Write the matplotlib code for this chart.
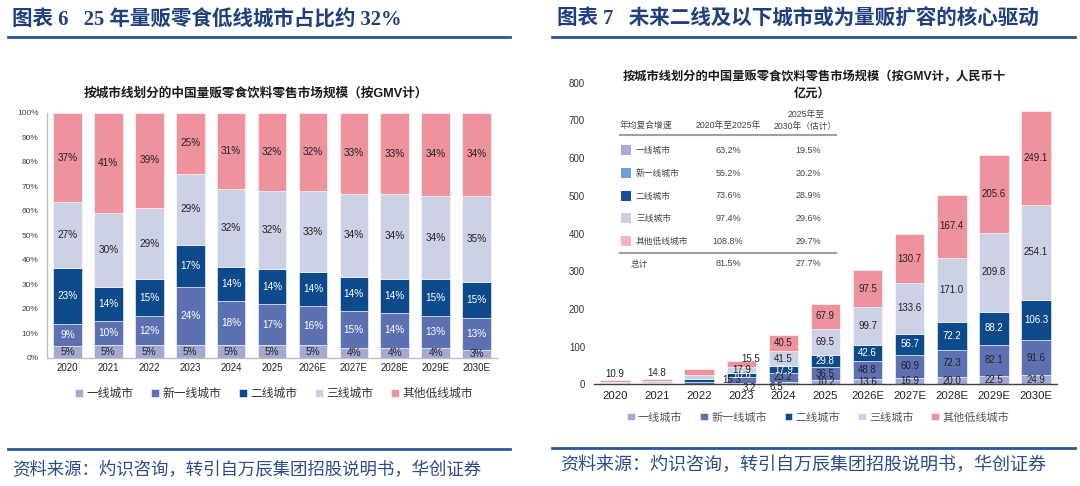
import matplotlib
matplotlib.use('Agg')
import matplotlib.pyplot as plt
from matplotlib.patches import Rectangle
from matplotlib.lines import Line2D
import numpy as np

plt.rcParams['font.family'] = ['Liberation Sans', 'Noto Sans CJK SC', 'DejaVu Sans']

W, H = 1080, 486

# ---------------- data ----------------
years = ['2020', '2021', '2022', '2023', '2024', '2025',
         '2026E', '2027E', '2028E', '2029E', '2030E']
tiers = ['一线城市', '新一线城市', '二线城市', '三线城市', '其他低线城市']

# share of GMV by city tier (%), left chart
share_t1 = [5, 5, 5, 5, 5, 5, 5, 4, 4, 4, 3]
share_new1 = [9, 10, 12, 24, 18, 17, 16, 15, 14, 13, 13]
share_t2 = [23, 14, 15, 17, 14, 14, 14, 14, 14, 15, 15]
share_t3 = [27, 30, 29, 29, 32, 32, 33, 34, 34, 34, 35]
share_low = [37, 41, 39, 25, 31, 32, 32, 33, 33, 34, 34]

# GMV by city tier (RMB bn), right chart (2020-2022 segments estimated)
gmv_t1 = [0.5, 0.7, 2.0, 3.2, 6.5, 10.2, 13.6, 16.9, 20.0, 22.5, 24.9]
gmv_new1 = [1.0, 1.5, 4.8, 15.3, 23.2, 36.5, 48.8, 60.9, 72.3, 82.1, 91.6]
gmv_t2 = [2.5, 2.1, 6.0, 10.6, 17.9, 29.8, 42.6, 56.7, 72.2, 88.2, 106.3]
gmv_t3 = [2.9, 4.4, 11.6, 17.9, 41.5, 69.5, 99.7, 133.6, 171.0, 209.8, 254.1]
gmv_low = [4.0, 6.1, 15.6, 15.5, 40.5, 67.9, 97.5, 130.7, 167.4, 205.6, 249.1]
total_labels = {'2020': 10.9, '2021': 14.8}
segment_label_years = ['2023', '2024', '2025', '2026E', '2027E', '2028E', '2029E', '2030E']

# CAGR table
cagr_2020_2025 = [63.2, 55.2, 73.6, 97.4, 108.8]
cagr_2025_2030 = [19.5, 20.2, 28.9, 29.6, 29.7]
cagr_total = [81.5, 27.7]

# ---------------- style ----------------
colors = ['#A3A9D2', '#5C70B2', '#0D4A8B', '#CCD1E6', '#EE929E']
table_sq_colors = ['#A7ACD6', '#6E9FD4', '#1F4C98', '#CACEE6', '#F4B4C3']
lbl_left = ['#222222', 'white', 'white', '#222222', '#222222']
lbl_right = ['#222222', '#222222', 'white', '#222222', '#222222']
HDR = '#1F3F7F'
LINE = '#2F5597'


def fx(x):
    return x / W


def fy(y):
    return 1 - y / H


fig = plt.figure(figsize=(10.8, 4.86), dpi=100)

# ---------------- headers / footers ----------------
hdr_font = ['Liberation Serif', 'Noto Sans CJK SC']
fig.text(fx(12), fy(20), '图表 6   25 年量贩零食低线城市占比约 32%', family=hdr_font,
         fontsize=14.8, fontweight='bold', color=HDR, ha='left', va='center')
fig.text(fx(557), fy(20), '图表 7   未来二线及以下城市或为量贩扩容的核心驱动', family=hdr_font,
         fontsize=14.8, fontweight='bold', color=HDR, ha='left', va='center')
for (a, b, y) in [(8, 510, 37), (552, 1075, 37), (8, 510, 449), (552, 1075, 448)]:
    fig.add_artist(Line2D([fx(a), fx(b)], [fy(y), fy(y)], color=LINE, lw=2))
src = '资料来源：灼识咨询，转引自万辰集团招股说明书，华创证券'
fig.text(fx(12), fy(470), src, family=['Noto Sans CJK SC'], fontsize=12.55,
         color='#2B4C8C', ha='left', va='center')
fig.text(fx(560), fy(465), src, family=['Noto Sans CJK SC'], fontsize=13,
         color='#2B4C8C', ha='left', va='center')

# ---------------- left chart ----------------
ax1 = fig.add_axes([fx(47), fy(357.7), (497 - 47) / W, (357.7 - 112.7) / H])
shares = np.array([share_t1, share_new1, share_t2, share_t3, share_low], dtype=float)
norm = shares / shares.sum(axis=0) * 100
x = np.arange(len(years))
bottom = np.zeros(len(years))
handles = []
for i in range(5):
    b = ax1.bar(x, norm[i], 0.7, bottom=bottom, color=colors[i], edgecolor='white',
                linewidth=0.4, label=tiers[i])
    handles.append(b)
    for j in range(len(years)):
        ax1.text(x[j], bottom[j] + norm[i][j] / 2, f'{int(shares[i][j])}%', ha='center',
                 va='center', fontsize=7.2, color=lbl_left[i])
    bottom += norm[i]
ax1.set_xlim(-0.5, 10.5)
ax1.set_ylim(0, 100)
ax1.set_yticks(np.arange(0, 101, 10))
ax1.set_yticklabels([f'{v}%' for v in range(0, 101, 10)], fontsize=6, color='#404040')
ax1.set_xticks(x)
ax1.set_xticklabels(years, fontsize=7, color='#222222')
ax1.tick_params(axis='both', length=0)
ax1.tick_params(axis='y', pad=6)
ax1.tick_params(axis='x', pad=4)
for s in ['top', 'right']:
    ax1.spines[s].set_visible(False)
for s in ['left', 'bottom']:
    ax1.spines[s].set_color('#BFBFBF')
    ax1.spines[s].set_linewidth(1)
fig.text(fx(256), fy(93), '按城市线划分的中国量贩零食饮料零售市场规模（按GMV计）', fontsize=9.1,
         fontweight='bold', color='#1a1a1a', ha='center', va='center')
fig.legend(handles, tiers, loc='center', bbox_to_anchor=(fx(274), fy(394)), ncol=5,
           frameon=False, fontsize=8.5, handlelength=0.7, handleheight=0.7,
           handletextpad=0.3, columnspacing=1.45, labelcolor='#333333')

# ---------------- right chart ----------------
ax2 = fig.add_axes([fx(594), fy(384.3), (1057 - 594) / W, (384.3 - 82.7) / H])
gmv = np.array([gmv_t1, gmv_new1, gmv_t2, gmv_t3, gmv_low])
bottom = np.zeros(len(years))
rhandles = []
offsets = {('2023', 4): (9, 5), ('2023', 1): (-10, 0), ('2023', 0): (8, -4),
           ('2024', 0): (-7, -4)}
for i in range(5):
    b = ax2.bar(x, gmv[i], 0.7, bottom=bottom, color=colors[i], edgecolor='white',
                linewidth=0.4, label=tiers[i])
    rhandles.append(b)
    for j, yr in enumerate(years):
        if yr in segment_label_years:
            dx, dy = offsets.get((yr, i), (0, 0))
            ax2.annotate(f'{gmv[i][j]:.1f}', (x[j], bottom[j] + gmv[i][j] / 2),
                         xytext=(dx, dy), textcoords='offset pixels', ha='center',
                         va='center', fontsize=7, color=lbl_right[i])
    bottom += gmv[i]
for j, yr in enumerate(years):
    if yr in total_labels:
        ax2.annotate(f'{total_labels[yr]:.1f}', (x[j], bottom[j]), xytext=(0, 1),
                     textcoords='offset pixels', ha='center', va='bottom', fontsize=7,
                     color='#222222')
ax2.set_xlim(-0.5, 10.5)
ax2.set_ylim(0, 800)
ax2.set_yticks(np.arange(0, 801, 100))
ax2.set_yticklabels([str(v) for v in range(0, 801, 100)], fontsize=7, color='#333333')
ax2.set_xticks(x)
ax2.set_xticklabels(years, fontsize=8.2, color='#222222')
ax2.tick_params(axis='both', length=0)
ax2.tick_params(axis='y', pad=6.5)
ax2.tick_params(axis='x', pad=5)
for s in ['top', 'right', 'left']:
    ax2.spines[s].set_visible(False)
ax2.spines['bottom'].set_color('#404040')
ax2.spines['bottom'].set_linewidth(1)
fig.text(fx(814.5), fy(77), '按城市线划分的中国量贩零食饮料零售市场规模（按GMV计，人民币十',
         fontsize=8.8, fontweight='bold', color='#1a1a1a', ha='center', va='center')
fig.text(fx(812), fy(94), '亿元）', fontsize=8.8, fontweight='bold', color='#1a1a1a',
         ha='center', va='center')
fig.legend(rhandles, tiers, loc='center', bbox_to_anchor=(fx(818), fy(417)), ncol=5,
           frameon=False, fontsize=8, handlelength=0.7, handleheight=0.7,
           handletextpad=0.3, columnspacing=1.6, labelcolor='#555555')

# ---------------- CAGR table ----------------
tc = '#444444'
tfs = 6.3
fig.text(fx(620), fy(125.7), '年均复合增速', fontsize=tfs, color=tc, ha='left', va='center')
fig.text(fx(728), fy(125.7), '2020年至2025年', fontsize=tfs, color=tc, ha='center', va='center')
fig.text(fx(806), fy(114), '2025年至', fontsize=tfs, color=tc, ha='center', va='center')
fig.text(fx(805), fy(126), '2030年（估计）', fontsize=tfs, color=tc, ha='center', va='center')
for y in [135, 253]:
    fig.add_artist(Line2D([fx(620), fx(836)], [fy(y), fy(y)], color='#A0A0A0', lw=1.5))
row_y = [150, 173, 196, 218, 241]
for i in range(5):
    fig.add_artist(Rectangle((fx(621), fy(row_y[i] + 5)), 10 / W, 10 / H,
                             transform=fig.transFigure, facecolor=table_sq_colors[i],
                             edgecolor='none'))
    fig.text(fx(636), fy(row_y[i]), tiers[i], fontsize=tfs, color=tc, ha='left', va='center')
    fig.text(fx(728), fy(row_y[i]), f'{cagr_2020_2025[i]:.1f}%', fontsize=6.5, color=tc,
             ha='center', va='center')
    fig.text(fx(808), fy(row_y[i]), f'{cagr_2025_2030[i]:.1f}%', fontsize=6.5, color=tc,
             ha='center', va='center')
fig.text(fx(639), fy(264), '总计', fontsize=tfs, color=tc, ha='center', va='center')
fig.text(fx(728), fy(264), f'{cagr_total[0]:.1f}%', fontsize=6.5, color=tc, ha='center', va='center')
fig.text(fx(808), fy(264), f'{cagr_total[1]:.1f}%', fontsize=6.5, color=tc, ha='center', va='center')

fig.savefig('out.png', dpi=100)
